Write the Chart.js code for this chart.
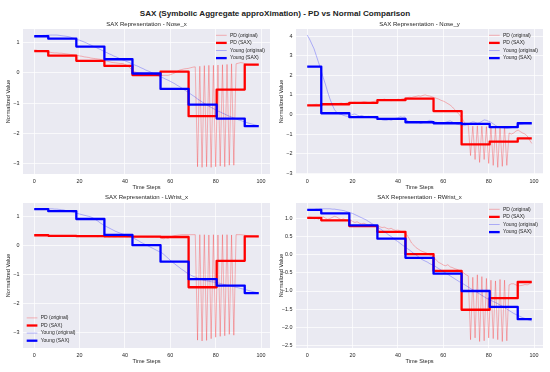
<!DOCTYPE html>
<html lang="en">

<head>
    <meta charset="UTF-8">
    <title>SAX - PD vs Normal Comparison</title>
    <script src="https://cdn.jsdelivr.net/npm/chart.js"></script>
    <style>
        body { margin: 0; background: #fff; }
        #fig { position: relative; width: 550px; height: 372px; background: #fff; overflow: hidden; }
        #fig canvas { position: absolute; }
        #suptitle {
            position: absolute; left: 0; top: 9.3px; width: 550px; text-align: center;
            font: bold 8.1px "Liberation Sans", Arial, sans-serif; line-height: 10px; color: #222;
        }
    </style>
</head>

<body>
    <div id="fig">
        <div id="suptitle">SAX (Symbolic Aggregate approXimation) - PD vs Normal Comparison</div>
        <canvas id="c0" width="275" height="194" style="left:0;top:0"></canvas>
        <canvas id="c1" width="275" height="194" style="left:275px;top:0"></canvas>
        <canvas id="c2" width="275" height="182" style="left:0;top:186px"></canvas>
        <canvas id="c3" width="275" height="182" style="left:275px;top:186px"></canvas>
    </div>

    <script>
        // ---- data ----
        const timeSteps = Array.from({ length: 100 }, (_, i) => i);
        const saxSteps = [0, 12.375, 24.75, 37.125, 49.5, 61.875, 74.25, 86.625, 99];
        const xTicks = [0, 20, 40, 60, 80, 100];
        const seriesLabels = ['PD (original)', 'PD (SAX)', 'Young (original)', 'Young (SAX)'];

        // Nose_x
        const pdNoseX = [
            0.76, 0.75, 0.73, 0.72, 0.71, 0.70, 0.68, 0.68, 0.67, 0.66,
            0.66, 0.65, 0.65, 0.64, 0.63, 0.62, 0.61, 0.60, 0.59, 0.58,
            0.56, 0.55, 0.53, 0.52, 0.51, 0.49, 0.48, 0.47, 0.46, 0.45,
            0.43, 0.41, 0.39, 0.37, 0.35, 0.34, 0.33, 0.32, 0.31, 0.31,
            0.28, 0.24, 0.18, 0.10, 0.05, 0.02, 0.00, -0.01, -0.02, -0.04,
            -0.05, -0.06, -0.07, -0.08, -0.08, -0.09, -0.09, -0.08, -0.08, -0.08,
            -0.06, -0.03, 0.00, 0.05, 0.09, 0.11, 0.13, 0.14, 0.15, 0.17,
            0.19, 0.20, -3.10, 0.22, -3.12, 0.24, -3.10, 0.25, -3.12, 0.25,
            -3.10, 0.26, -3.08, 0.27, -3.10, 0.28, -3.05, 0.30, -3.05, 0.30,
            0.32, 0.34, 0.33, 0.30, 0.28, 0.27, 0.27, 0.26, 0.27, 0.27
        ];
        const youngNoseX = [
            1.20, 1.21, 1.22, 1.23, 1.24, 1.24, 1.25, 1.25, 1.25, 1.25,
            1.25, 1.24, 1.23, 1.22, 1.21, 1.20, 1.18, 1.15, 1.13, 1.10,
            1.08, 1.05, 1.02, 0.99, 0.95, 0.92, 0.88, 0.85, 0.81, 0.78,
            0.74, 0.70, 0.67, 0.63, 0.60, 0.56, 0.53, 0.50, 0.46, 0.43,
            0.40, 0.37, 0.34, 0.30, 0.27, 0.24, 0.21, 0.17, 0.14, 0.10,
            0.07, 0.04, 0.00, -0.03, -0.07, -0.10, -0.14, -0.17, -0.21, -0.24,
            -0.28, -0.32, -0.36, -0.41, -0.45, -0.50, -0.55, -0.60, -0.65, -0.70,
            -0.75, -0.80, -0.86, -0.91, -0.96, -1.01, -1.06, -1.10, -1.14, -1.18,
            -1.22, -1.26, -1.29, -1.33, -1.36, -1.40, -1.43, -1.46, -1.49, -1.52,
            -1.55, -1.57, -1.60, -1.62, -1.65, -1.67, -1.69, -1.71, -1.73, -1.75
        ];
        const pdNoseXSax = [0.72, 0.57, 0.40, 0.23, -0.07, 0.04, -1.43, -0.55, 0.27];
        const youngNoseXSax = [1.21, 1.13, 0.87, 0.45, -0.02, -0.53, -1.05, -1.51, -1.76];
        const noseXTicks = [-3, -2, -1, 0, 1];

        // Nose_y
        const pdNoseY = [
            0.47, 0.48, 0.47, 0.50, 0.52, 0.50, 0.53, 0.55, 0.52, 0.50,
            0.54, 0.56, 0.55, 0.53, 0.56, 0.58, 0.55, 0.57, 0.60, 0.58,
            0.60, 0.62, 0.60, 0.58, 0.62, 0.65, 0.63, 0.60, 0.62, 0.66,
            0.68, 0.70, 0.72, 0.75, 0.78, 0.75, 0.72, 0.70, 0.73, 0.75,
            0.78, 0.76, 0.80, 0.82, 0.85, 0.88, 0.86, 0.90, 0.92, 0.95,
            0.93, 0.97, 1.00, 0.96, 0.94, 0.90, 0.86, 0.82, 0.78, 0.72,
            0.68, 0.62, 0.55, 0.48, 0.38, 0.25, 0.12, 0.00, -0.15, -0.35,
            -0.50, -0.55, -2.10, -0.60, -2.30, -0.58, -2.45, -0.60, -2.30, -0.62,
            -2.50, -0.60, -2.60, -0.65, -2.70, -0.62, -2.65, -0.60, -2.60, -0.95,
            -1.00, -0.95, -0.85, -0.80, -0.88, -0.95, -1.00, -1.10, -1.30, -1.48
        ];
        const youngNoseY = [
            4.05, 3.85, 3.60, 3.35, 3.00, 2.65, 2.30, 1.90, 1.55, 1.15,
            0.80, 0.50, 0.25, 0.10, 0.03, 0.00, -0.05, -0.08, -0.10, -0.05,
            0.00, 0.02, -0.03, -0.08, -0.05, -0.10, -0.12, -0.10, -0.12, -0.15,
            -0.20, -0.25, -0.22, -0.28, -0.30, -0.30, -0.27, -0.30, -0.25, -0.20,
            -0.18, -0.12, -0.15, -0.13, -0.30, -0.38, -0.40, -0.36, -0.42, -0.40,
            -0.46, -0.42, -0.38, -0.35, -0.30, -0.32, -0.38, -0.40, -0.45, -0.42,
            -0.44, -0.40, -0.36, -0.33, -0.38, -0.45, -0.50, -0.52, -0.55, -0.58,
            -0.55, -0.50, -0.42, -0.38, -0.40, -0.45, -0.42, -0.35, -0.28, -0.30,
            -0.35, -0.40, -0.48, -0.56, -0.63, -0.66, -0.68, -0.70, -0.72, -0.70,
            -0.68, -0.65, -0.60, -0.55, -0.50, -0.48, -0.45, -0.46, -0.47, -0.46
        ];
        const pdNoseYSax = [0.46, 0.52, 0.59, 0.73, 0.81, 0.17, -1.53, -1.39, -1.22];
        const youngNoseYSax = [2.44, 0.06, -0.14, -0.23, -0.40, -0.45, -0.48, -0.65, -0.45];
        const noseYTicks = [-3, -2, -1, 0, 1, 2, 3, 4];

        // LWrist_x
        const pdLWristX = [
            0.36, 0.37, 0.36, 0.36, 0.35, 0.36, 0.35, 0.34, 0.35, 0.34,
            0.34, 0.33, 0.34, 0.33, 0.33, 0.32, 0.33, 0.33, 0.32, 0.33,
            0.33, 0.32, 0.33, 0.32, 0.32, 0.33, 0.32, 0.32, 0.31, 0.32,
            0.32, 0.31, 0.32, 0.31, 0.32, 0.31, 0.31, 0.32, 0.31, 0.31,
            0.31, 0.30, 0.31, 0.30, 0.31, 0.30, 0.30, 0.31, 0.30, 0.30,
            0.29, 0.30, 0.29, 0.30, 0.29, 0.30, 0.26, 0.24, 0.27, 0.25,
            0.30, 0.33, 0.35, 0.36, 0.37, 0.38, 0.38, 0.38, 0.38, 0.38,
            0.38, 0.38, -3.25, 0.38, -3.28, 0.38, -3.26, 0.37, -3.20, 0.38,
            -3.15, 0.37, -3.12, 0.38, -3.10, 0.38, -3.05, 0.37, -3.08, 0.38,
            0.38, 0.38, 0.37, 0.36, 0.34, 0.33, 0.32, 0.32, 0.31, 0.31
        ];
        const youngLWristX = [
            1.25, 1.25, 1.26, 1.26, 1.27, 1.27, 1.27, 1.27, 1.27, 1.26,
            1.26, 1.25, 1.24, 1.23, 1.21, 1.20, 1.18, 1.16, 1.13, 1.11,
            1.09, 1.07, 1.05, 1.03, 1.01, 0.99, 0.95, 0.90, 0.85, 0.79,
            0.74, 0.69, 0.65, 0.61, 0.57, 0.53, 0.49, 0.46, 0.43, 0.40,
            0.37, 0.34, 0.31, 0.29, 0.25, 0.21, 0.17, 0.12, 0.08, 0.04,
            0.00, -0.04, -0.08, -0.12, -0.16, -0.20, -0.23, -0.29, -0.36, -0.43,
            -0.50, -0.57, -0.63, -0.69, -0.75, -0.81, -0.86, -0.92, -0.97, -1.01,
            -1.05, -1.08, -1.11, -1.14, -1.17, -1.19, -1.21, -1.22, -1.24, -1.25,
            -1.26, -1.28, -1.30, -1.32, -1.34, -1.36, -1.37, -1.39, -1.41, -1.43,
            -1.45, -1.47, -1.49, -1.51, -1.53, -1.55, -1.57, -1.59, -1.61, -1.63
        ];
        const pdLWristXSax = [0.36, 0.34, 0.33, 0.32, 0.31, 0.30, -1.43, -0.52, 0.32];
        const youngLWristXSax = [1.26, 1.19, 0.92, 0.37, 0.02, -0.55, -1.15, -1.37, -1.63];
        const lWristXTicks = [-3, -2, -1, 0, 1];

        // RWrist_x
        const pdRWristX = [
            1.03, 1.05, 1.04, 1.00, 1.02, 0.99, 1.03, 1.06, 1.02, 0.99,
            1.01, 1.04, 1.07, 1.05, 1.01, 0.98, 1.00, 0.97, 0.95, 0.97,
            0.93, 0.90, 0.92, 0.88, 0.86, 0.88, 0.85, 0.83, 0.85, 0.82,
            0.80, 0.82, 0.78, 0.76, 0.77, 0.74, 0.72, 0.74, 0.70, 0.68,
            0.69, 0.66, 0.63, 0.60, 0.55, 0.45, 0.33, 0.27, 0.20, 0.16,
            0.12, 0.09, 0.07, 0.04, 0.00, -0.03, -0.08, -0.15, -0.21, -0.24,
            -0.28, -0.30, -0.27, -0.33, -0.35, -0.38, -0.40, -0.43, -0.45, -0.50,
            -0.55, -0.58, -2.35, -0.62, -2.30, -0.55, -2.40, -0.60, -2.38, -0.65,
            -2.30, -0.70, -2.32, -0.72, -2.35, -0.68, -2.40, -0.70, -2.38, -0.83,
            -0.80, -0.80, -0.83, -0.86, -0.85, -0.84, -0.82, -0.83, -0.80, -0.76
        ];
        const youngRWristX = [
            1.25, 1.25, 1.26, 1.26, 1.27, 1.27, 1.28, 1.28, 1.28, 1.28,
            1.28, 1.27, 1.27, 1.26, 1.25, 1.24, 1.23, 1.21, 1.19, 1.17,
            1.15, 1.12, 1.09, 1.06, 1.03, 1.00, 0.97, 0.93, 0.89, 0.85,
            0.81, 0.77, 0.73, 0.69, 0.64, 0.60, 0.55, 0.51, 0.46, 0.41,
            0.37, 0.32, 0.27, 0.23, 0.18, 0.14, 0.09, 0.04, 0.00, -0.05,
            -0.10, -0.14, -0.17, -0.20, -0.24, -0.27, -0.30, -0.34, -0.38, -0.42,
            -0.46, -0.50, -0.54, -0.58, -0.62, -0.66, -0.70, -0.74, -0.77, -0.81,
            -0.85, -0.89, -0.93, -0.97, -1.00, -1.04, -1.08, -1.12, -1.16, -1.20,
            -1.23, -1.26, -1.29, -1.32, -1.35, -1.39, -1.42, -1.46, -1.50, -1.54,
            -1.58, -1.62, -1.65, -1.68, -1.71, -1.74, -1.76, -1.79, -1.81, -1.83
        ];
        const pdRWristXSax = [1.03, 0.96, 0.80, 0.64, 0.02, -0.44, -1.52, -1.20, -0.75];
        const youngRWristXSax = [1.25, 1.15, 0.82, 0.45, -0.08, -0.52, -1.00, -1.44, -1.78];
        const rWristXTicks = [-2.5, -2, -1.5, -1, -0.5, 0, 0.5, 1];

        // ---- panels (data refs + layout) ----
        const panels = [
            { id: 'c0', title: 'SAX Representation - Nose_x', pd: pdNoseX, young: youngNoseX, pdSax: pdNoseXSax, youngSax: youngNoseXSax,
              yTicks: noseXTicks, dec: 0, yMin: -3.34, yMax: 1.45, area: [23, 29, 270, 174], titleY: 24.3, legend: 'ur' },
            { id: 'c1', title: 'SAX Representation - Nose_y', pd: pdNoseY, young: youngNoseY, pdSax: pdNoseYSax, youngSax: youngNoseYSax,
              yTicks: noseYTicks, dec: 0, yMin: -3.04, yMax: 4.36, area: [21, 29, 268, 174], titleY: 24.3, legend: 'ur' },
            { id: 'c2', title: 'SAX Representation - LWrist_x', pd: pdLWristX, young: youngLWristX, pdSax: pdLWristXSax, youngSax: youngLWristXSax,
              yTicks: lWristXTicks, dec: 0, yMin: -3.52, yMax: 1.47, area: [23, 17, 270, 162], titleY: 11.4, legend: 'll' },
            { id: 'c3', title: 'SAX Representation - RWrist_x', pd: pdRWristX, young: youngRWristX, pdSax: pdRWristXSax, youngSax: youngRWristXSax,
              yTicks: rWristXTicks, dec: 1, yMin: -2.58, yMax: 1.44, area: [21, 17, 268, 162], titleY: 11.6, legend: 'ur' }
        ];

        const FONT = '"Liberation Sans", Arial, sans-serif';
        const TXT = '#262626';
        const fmt = (v, d) => (v < 0 ? '\u2212' : '') + Math.abs(v).toFixed(d);
        const toXY = (xs, ys) => ys.map((v, i) => ({ x: xs[i], y: v }));

        const bgPlugin = {
            id: 'panelBg',
            beforeDraw(chart) {
                const { ctx, chartArea: a } = chart;
                ctx.save();
                ctx.fillStyle = '#EAEAF2';
                ctx.fillRect(a.left, a.top, a.right - a.left, a.bottom - a.top);
                ctx.restore();
            }
        };

        // legend drawn inside the axes, like matplotlib's
        const legendPlugin = {
            id: 'saxLegend',
            afterDatasetsDraw(chart, args, opts) {
                const { ctx, chartArea: a } = chart;
                const sets = chart.data.datasets;
                const x0 = opts.corner === 'll' ? a.left + 3.7 : a.right - 54;
                const y0 = opts.corner === 'll' ? a.bottom - 7.3 - 7.6 * (sets.length - 1) : a.top + 6.3;
                ctx.save();
                ctx.font = '5px ' + FONT;
                ctx.textBaseline = 'middle';
                sets.forEach((ds, i) => {
                    const y = y0 + 7.6 * i;
                    ctx.strokeStyle = ds.borderColor;
                    ctx.lineWidth = ds.borderWidth;
                    ctx.beginPath();
                    ctx.moveTo(x0, y);
                    ctx.lineTo(x0 + 10.7, y);
                    ctx.stroke();
                    ctx.fillStyle = TXT;
                    ctx.fillText(ds.label, x0 + 14, y);
                });
                ctx.restore();
            }
        };

        function makeChart(p) {
            const cv = document.getElementById(p.id);
            const W = cv.width, H = cv.height;
            const [L, T, R, B] = p.area;
            const tickFont = { family: FONT, size: 5.4 };
            const axFont = { family: FONT, size: 5.6 };
            return new Chart(cv, {
                type: 'line',
                data: {
                    datasets: [
                        { label: seriesLabels[0], data: toXY(timeSteps, p.pd), borderColor: 'rgba(255,0,0,0.3)', borderWidth: 0.9, order: 4 },
                        { label: seriesLabels[1], data: toXY(saxSteps, p.pdSax), borderColor: '#ff0000', borderWidth: 2.3, stepped: 'middle', order: 3 },
                        { label: seriesLabels[2], data: toXY(timeSteps, p.young), borderColor: 'rgba(0,0,255,0.3)', borderWidth: 0.9, order: 2 },
                        { label: seriesLabels[3], data: toXY(saxSteps, p.youngSax), borderColor: '#0000ff', borderWidth: 2.3, stepped: 'middle', order: 1 }
                    ]
                },
                options: {
                    responsive: false,
                    animation: false,
                    devicePixelRatio: 1,
                    elements: {
                        point: { radius: 0 },
                        line: { tension: 0, borderJoinStyle: 'round', borderCapStyle: 'butt' }
                    },
                    layout: { padding: { left: 0, top: 0, right: W - R, bottom: 0 } },
                    plugins: {
                        legend: { display: false },
                        tooltip: { enabled: false },
                        title: {
                            display: true, text: p.title, fullSize: false, color: TXT,
                            font: { family: FONT, size: 6.05, weight: 'normal' },
                            padding: { top: p.titleY - 3.63, bottom: T - p.titleY - 3.63 }
                        },
                        saxLegend: { corner: p.legend }
                    },
                    scales: {
                        x: {
                            type: 'linear', min: -4.95, max: 103.95,
                            afterFit: s => { s.height = H - B; },
                            afterBuildTicks: s => { s.ticks = xTicks.map(v => ({ value: v })); },
                            grid: { color: '#ffffff', lineWidth: 0.7, drawTicks: false },
                            border: { display: false },
                            ticks: { padding: 4, font: tickFont, color: TXT, maxRotation: 0, callback: v => fmt(v, 0) },
                            title: { display: true, text: 'Time Steps', color: TXT, font: axFont, padding: { top: 0, bottom: 3.64 } }
                        },
                        y: {
                            type: 'linear', min: p.yMin, max: p.yMax,
                            afterFit: s => { s.width = L; },
                            afterBuildTicks: s => { s.ticks = p.yTicks.map(v => ({ value: v })); },
                            grid: { color: '#ffffff', lineWidth: 0.7, drawTicks: false },
                            border: { display: false },
                            ticks: { padding: 3.5, font: tickFont, color: TXT, callback: v => fmt(v, p.dec) },
                            title: { display: true, text: 'Normalized Value', color: TXT, font: axFont, padding: { top: L - 14.5 - 3.36, bottom: 0 } }
                        }
                    }
                },
                plugins: [bgPlugin, legendPlugin]
            });
        }

        panels.forEach(makeChart);
    </script>
</body>

</html>
